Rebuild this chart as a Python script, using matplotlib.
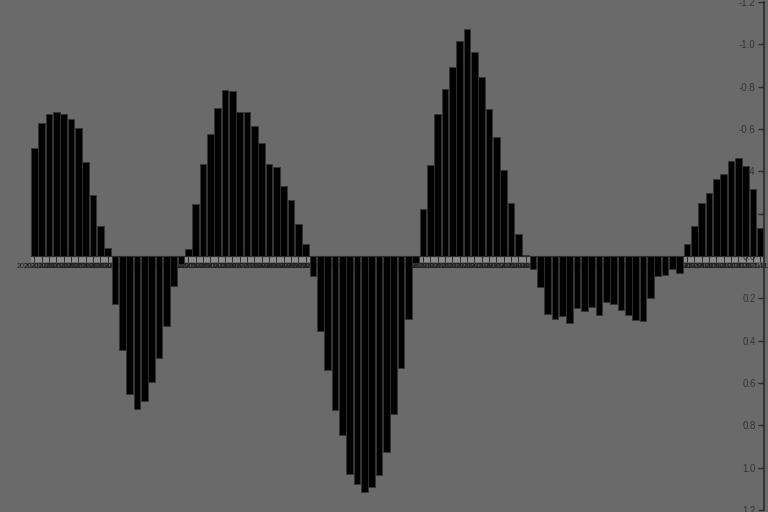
import numpy as np
import pandas as pd
import matplotlib
matplotlib.use("Agg")
import matplotlib.pyplot as plt

# weekly values (y axis is inverted: negative plots upward)
values = [
    -0.51, -0.627, -0.670, -0.679, -0.673, -0.646, -0.604, -0.444, -0.29, -0.143, -0.036,
    0.228, 0.445, 0.65, 0.725, 0.686, 0.597, 0.484, 0.333, 0.143, 0.04,
    -0.035, -0.247, -0.436, -0.575, -0.70, -0.786, -0.781, -0.679, -0.679, -0.614,
    -0.535, -0.433, -0.419, -0.33, -0.263, -0.152, -0.058,
    0.095, 0.355, 0.537, 0.728, 0.845, 1.031, 1.078, 1.116, 1.091, 1.037, 0.925,
    0.745, 0.531, 0.299, 0.035,
    -0.222, -0.428, -0.669, -0.789, -0.893, -1.018, -1.071, -0.963, -0.845, -0.695,
    -0.563, -0.408, -0.25, -0.104, -0.005,
    0.063, 0.147, 0.273, 0.296, 0.284, 0.317, 0.248, 0.26, 0.241, 0.281, 0.215,
    0.226, 0.255, 0.281, 0.303, 0.307, 0.2, 0.095, 0.088, 0.06, 0.079,
    -0.057, -0.142, -0.252, -0.296, -0.364, -0.389, -0.447, -0.463, -0.424, -0.317, -0.131,
]
dates = pd.date_range("2020-01-05", periods=len(values), freq="7D")
date_labels = [d.strftime("%Y-%m-%d") for d in dates]
y_ticks = [-1.2, -1.0, -0.8, -0.6, -0.4, -0.2, 0.0, 0.2, 0.4, 0.6, 0.8, 1.0, 1.2]

bg = "#6a6a6a"
ink = "#2b2b2b"

fig = plt.figure(figsize=(7.68, 5.12), dpi=100, facecolor=bg)
ax = fig.add_axes([0, 2 / 512, 764 / 768, 508 / 512])
ax.set_facecolor(bg)

x = np.arange(len(values))
ax.bar(x, values, width=0.92, color="black", edgecolor="#333333", linewidth=0.6, zorder=1)

# light strip behind the x ticks, just under the zero line
ax.fill_between([-0.5, len(values) - 0.5], 0, 0.028, color="#8a8a8a", zorder=0.3, linewidth=0)

ax.set_xlim(-4.7, len(values) - 0.5)
ax.set_ylim(1.2, -1.2)
ax.set_axisbelow(True)

for side in ["left", "top"]:
    ax.spines[side].set_visible(False)
ax.spines["right"].set_color(ink)
ax.spines["right"].set_linewidth(1.2)
ax.spines["bottom"].set_position(("data", 0))
ax.spines["bottom"].set_bounds(-0.5, len(values) - 0.5)
ax.spines["bottom"].set_color(ink)
ax.spines["bottom"].set_linewidth(0.8)

ax.set_xticks(x)
ax.set_xticklabels(date_labels, fontsize=5, family=["Liberation Sans", "DejaVu Sans"], color="#1e1e1e")
ax.tick_params(axis="x", direction="out", length=4, width=0.7, color=ink, pad=1)

ax.yaxis.tick_right()
ax.set_yticks(y_ticks)
ax.set_yticklabels([f"{v:.1f}" for v in y_ticks], family=["Liberation Sans", "DejaVu Sans"])
ax.tick_params(axis="y", direction="in", length=4, width=1, color=ink,
               labelsize=7, labelcolor="#333333", pad=-6)
for lab in ax.get_yticklabels():
    lab.set_horizontalalignment("right")

fig.savefig("out.png", dpi=100, facecolor=bg)
